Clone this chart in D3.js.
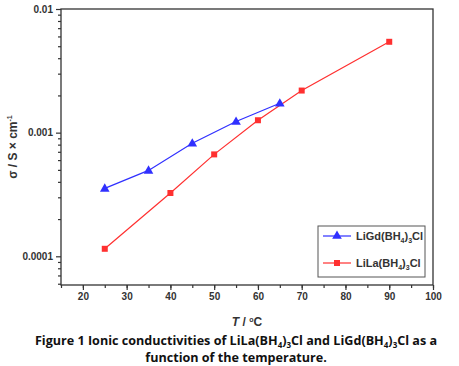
<!DOCTYPE html>
<html><head><meta charset="utf-8">
<script src="https://cdn.jsdelivr.net/npm/d3@7"></script>
<style>body{margin:0;background:#fff}svg{display:block}</style>
</head><body>
<script>
const gdTemps = [25, 35, 45, 55, 65];
const gdValues = [3.54e-4, 4.95e-4, 8.2e-4, 1.23e-3, 1.73e-3];
const laTemps = [25, 40, 50, 60, 70, 90];
const laValues = [1.15e-4, 3.25e-4, 6.67e-4, 1.26e-3, 2.19e-3, 5.43e-3];
const xTicks = [20, 30, 40, 50, 60, 70, 80, 90, 100];
const yTicks = [0.0001, 0.001, 0.01];
const yTickLabels = ["0.0001", "0.001", "0.01"];

const W = 459, H = 366;
const L = 61, R = 433, T = 9, B = 285;
const svg = d3.select("body").append("svg").attr("width", W).attr("height", H);
const x = d3.scaleLinear().domain([15, 100]).range([L, R]);
const y = d3.scaleLog().domain([5.86e-5, 0.01]).range([B, T]);
const blue = "#3030ff", red = "#ff3030";
const fontA = "'Liberation Sans', Arial, sans-serif";

svg.append("rect").attr("x", L).attr("y", T).attr("width", R - L).attr("height", B - T)
  .attr("fill", "none").attr("stroke", "#333").attr("stroke-width", 1.3);

const xMinor = d3.range(15, 101, 5);
svg.append("g").attr("transform", `translate(0,${B})`)
  .call(d3.axisBottom(x).tickValues(xMinor).tickSize(3).tickFormat(""))
  .call(g => { g.select(".domain").remove(); g.selectAll("line").attr("stroke", "#333").attr("stroke-width", 1.2); });
svg.append("g").attr("transform", `translate(0,${B})`)
  .call(d3.axisBottom(x).tickValues(xTicks).tickSize(5).tickPadding(3))
  .call(g => { g.select(".domain").remove(); g.selectAll("line").attr("stroke", "#333").attr("stroke-width", 1.2);
    g.selectAll("text").attr("font-family", fontA).attr("font-weight", "bold").attr("font-size", 10).attr("fill", "#333"); });

const yMinor = [];
[1e-5, 1e-4, 1e-3].forEach(d => { for (let k = 2; k <= 9; k++) { const v = d * k; if (v >= 5.86e-5 && v <= 0.01) yMinor.push(v); } });
svg.append("g").attr("transform", `translate(${L},0)`)
  .call(d3.axisLeft(y).tickValues(yMinor).tickSize(3).tickFormat(""))
  .call(g => { g.select(".domain").remove(); g.selectAll("line").attr("stroke", "#333").attr("stroke-width", 1.2); });
svg.append("g").attr("transform", `translate(${L},0)`)
  .call(d3.axisLeft(y).tickValues(yTicks).tickSize(5).tickPadding(3).tickFormat((d, i) => yTickLabels[i]))
  .call(g => { g.select(".domain").remove(); g.selectAll("line").attr("stroke", "#333").attr("stroke-width", 1.2);
    g.selectAll("text").attr("font-family", fontA).attr("font-weight", "bold").attr("font-size", 10).attr("fill", "#333"); });

const line = d3.line().x(d => x(d[0])).y(d => y(d[1]));
const gd = gdTemps.map((t, i) => [t, gdValues[i]]);
const la = laTemps.map((t, i) => [t, laValues[i]]);
svg.append("path").datum(la).attr("d", line).attr("fill", "none").attr("stroke", red).attr("stroke-width", 1.2);
svg.append("path").datum(gd).attr("d", line).attr("fill", "none").attr("stroke", blue).attr("stroke-width", 1.2);
const tri = d3.symbol().type(d3.symbolTriangle).size(40);
const sq = d3.symbol().type(d3.symbolSquare).size(36);
svg.selectAll(".la").data(la).join("path").attr("d", sq).attr("fill", red)
  .attr("transform", d => `translate(${x(d[0])},${y(d[1])})`);
svg.selectAll(".gd").data(gd).join("path").attr("d", tri).attr("fill", blue)
  .attr("transform", d => `translate(${x(d[0])},${y(d[1])+0.5})`);

const lg = svg.append("g");
lg.append("rect").attr("x", 318).attr("y", 226).attr("width", 107).attr("height", 51)
  .attr("fill", "#fff").attr("stroke", "#555").attr("stroke-width", 1);
const items = [{name: "LiGd", color: blue, sym: tri, yy: 236}, {name: "LiLa", color: red, sym: sq, yy: 263}];
items.forEach(it => {
  lg.append("line").attr("x1", 323).attr("x2", 351).attr("y1", it.yy).attr("y2", it.yy).attr("stroke", it.color).attr("stroke-width", 1.2);
  lg.append("path").attr("d", it.sym).attr("fill", it.color).attr("transform", `translate(337,${it.yy})`);
  const t = lg.append("text").attr("x", 356).attr("y", it.yy + 4).attr("font-family", fontA).attr("font-weight", "bold")
    .attr("font-size", 11).attr("fill", "#333");
  t.append("tspan").text(it.name + "(BH");
  t.append("tspan").attr("font-size", 7).attr("dy", 3).text("4");
  t.append("tspan").attr("dy", -3).text(")");
  t.append("tspan").attr("font-size", 7).attr("dy", 3).text("3");
  t.append("tspan").attr("dy", -3).text("Cl");
});

const yl = svg.append("text").attr("transform", `translate(17,${(T + B) / 2}) rotate(-90)`).attr("text-anchor", "middle")
  .attr("font-family", fontA).attr("font-weight", "bold").attr("font-size", 12).attr("fill", "#333");
yl.append("tspan").text("σ / S × cm");
yl.append("tspan").attr("font-size", 7).attr("dy", -5).text("-1");
const xl = svg.append("text").attr("x", 247).attr("y", 326).attr("text-anchor", "middle")
  .attr("font-family", fontA).attr("font-weight", "bold").attr("font-size", 12).attr("fill", "#333");
xl.append("tspan").attr("font-style", "italic").text("T");
xl.append("tspan").text(" / ");
xl.append("tspan").attr("font-size", 7).attr("dy", -4).text("o");
xl.append("tspan").attr("dy", 4).text("C");

const fontC = "'Open Sans', 'Noto Sans', sans-serif";
const c1 = svg.append("text").attr("x", 236).attr("y", 345).attr("text-anchor", "middle")
  .attr("font-family", fontC).attr("font-weight", "bold").attr("font-size", 12.6).attr("fill", "#111");
c1.append("tspan").text("Figure 1 Ionic conductivities of LiLa(BH");
c1.append("tspan").attr("font-size", 8).attr("dy", 3).text("4");
c1.append("tspan").attr("dy", -3).text(")");
c1.append("tspan").attr("font-size", 8).attr("dy", 3).text("3");
c1.append("tspan").attr("dy", -3).text("Cl and LiGd(BH");
c1.append("tspan").attr("font-size", 8).attr("dy", 3).text("4");
c1.append("tspan").attr("dy", -3).text(")");
c1.append("tspan").attr("font-size", 8).attr("dy", 3).text("3");
c1.append("tspan").attr("dy", -3).text("Cl as a");
svg.append("text").attr("x", 236).attr("y", 362).attr("text-anchor", "middle")
  .attr("font-family", fontC).attr("font-weight", "bold").attr("font-size", 12.6).attr("fill", "#111")
  .text("function of the temperature.");
</script>
</body></html>
